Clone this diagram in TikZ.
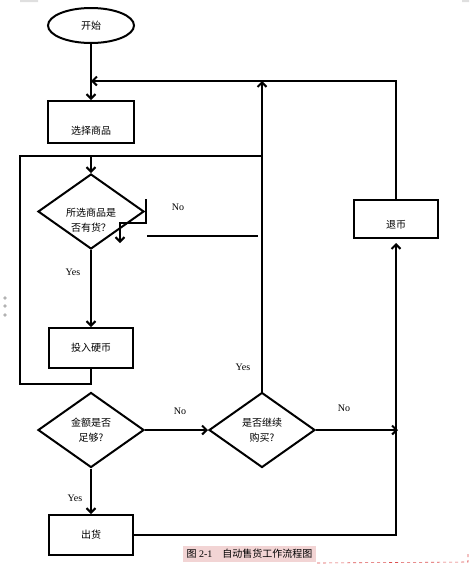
\documentclass[tikz,border=0pt]{standalone}
\usepackage{fontspec}
\setmainfont{Liberation Serif}
\newfontfamily\cjk{Noto Sans CJK SC}
\usetikzlibrary{shapes.geometric,arrows.meta}
\definecolor{hilite}{RGB}{242,212,212}
\definecolor{dashred}{RGB}{220,80,80}

\begin{document}
\begin{tikzpicture}[x=1pt,y=-1pt,line width=2pt,
  >={Straight Barb[length=4.5pt,width=9pt]},
  txt/.style={font=\cjk\fontsize{10}{15}\selectfont},
  lbl/.style={font=\fontsize{10}{12}\selectfont},
  box/.style={draw,rectangle,minimum width=84pt,minimum height=40pt,txt},
  decide/.style={draw,diamond,aspect=1.4,inner sep=0pt,minimum width=106pt,minimum height=75pt,align=center,txt},
  term/.style={draw,ellipse,minimum width=86pt,minimum height=35pt,txt}]

  \useasboundingbox (0,0) rectangle (469,565);

  \node[term] (start) at (91,25.5) {开始};
  \node[box,minimum width=86pt,minimum height=42pt,
    label={[txt,yshift=-9pt]center:选择商品}] (select) at (91,122) {};
  \node[decide,label={[txt,align=center,yshift=-9pt]center:所选商品是\\否有货？}] (check) at (91,211.5) {};
  \node[box] (coin) at (91,348) {投入硬币};
  \node[decide] (enough) at (91,430) {金额是否\\足够?};
  \node[decide] (more) at (262,430) {是否继续\\购买?};
  \node[box] (out) at (91,535) {出货};
  \node[box,minimum height=38pt,label={[txt,yshift=-6pt]center:退币}] (refund) at (396,219) {};

  \node[lbl] (nocheck) at (178,207) {No};
  \node[lbl] (yescheck) at (73,272) {Yes};
  \node[lbl] (yesmore) at (243,367) {Yes};
  \node[lbl] (noenough) at (180,411) {No};
  \node[lbl] (nomore) at (344,408) {No};
  \node[lbl] (yesenough) at (75,498) {Yes};

  \coordinate (merge) at (91,81);
  \coordinate (top) at (262,81);
  \coordinate (looptop) at (91,156);
  \coordinate (loopright) at (262,156);
  \coordinate (nostart) at (146,199);
  \coordinate (noend) at (120,243);
  \coordinate (nolinea) at (147,236);
  \coordinate (nolineb) at (258,236);
  \coordinate (refundin) at (398,430);

  \draw[->] (start) -- (select);
  \draw[->] (refund.north) |- (merge);
  \draw[->] (more.north) -- (top);
  \draw (coin.south) -- ++(0,15) -| (20,156) -- (loopright);
  \draw[->] (looptop) -- (check.north);
  \draw[->] (nostart) -- ++(0,24) -| (noend);
  \draw (nolinea) -- (nolineb);
  \draw[->] (check.south) -- (coin.north);
  \draw[->] (enough.east) -- (more.west);
  \draw[->] (more.east) -- (refundin);
  \draw[->] (enough.south) -- (out.north);
  \draw[->,shorten >=4pt] (out.east) -| (refund.south);

  \node[fill=hilite,inner sep=0pt,minimum width=133pt,minimum height=16pt,
    font=\fontsize{10}{12}\selectfont] (caption) at (249.5,554)
    {{\cjk 图} 2-1\quad{\cjk 自动售货工作流程图}};
  \draw[dashred,line width=0.6pt,dash pattern=on 3pt off 3pt]
    (caption.south east) -- (468,562) -- (468,554);

  \fill[gray!60] (5,298) circle (1.8) (5,306) circle (1.8) (5,315) circle (1.8);
  \fill[gray!25] (20,0) rectangle (38,2) (462,0) rectangle (469,2);

\end{tikzpicture}
\end{document}
